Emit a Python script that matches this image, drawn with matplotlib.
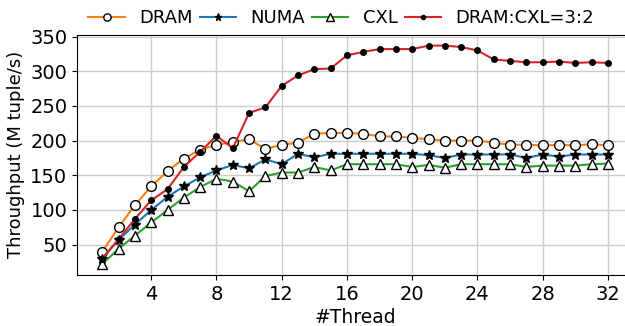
import numpy as np
from matplotlib import pyplot as plt

threads = list(range(1, 33))
dram = [40, 75, 107, 134, 156, 174, 187, 194, 198, 202, 188, 194, 197, 210, 211, 211,
        210, 206, 206, 204, 202, 200, 200, 200, 197, 194, 194, 193, 194, 193, 195, 193]
numa = [30, 57, 79, 100, 119, 134, 147, 157, 165, 160, 173, 166, 181, 176, 181, 181,
        181, 181, 181, 181, 179, 175, 180, 180, 180, 180, 175, 180, 177, 180, 180, 180]
cxl = [22, 44, 63, 82, 100, 118, 133, 145, 141, 127, 149, 154, 154, 162, 157, 166,
       166, 166, 166, 162, 165, 161, 166, 166, 166, 166, 162, 164, 164, 164, 166, 167]
mixed = [30, 58, 87, 114, 130, 162, 184, 207, 189, 240, 248, 279, 294, 303, 304, 323,
         328, 332, 332, 332, 337, 337, 335, 330, 317, 315, 313, 313, 314, 312, 313, 312]

fig = plt.figure(figsize=(6.25, 3.26), dpi=100)
ax = fig.add_axes([0.1232, 0.1564, 0.89, 0.7372])

#four series, drawn in legend order
ax.plot(threads, dram, color='tab:orange', marker='o', markersize=7,
        markerfacecolor='white', markeredgecolor='black', label='DRAM')
ax.plot(threads, numa, color='tab:blue', marker='*', markersize=7,
        markerfacecolor='black', markeredgecolor='black', label='NUMA')
ax.plot(threads, cxl, color='tab:green', marker='^', markersize=7,
        markerfacecolor='white', markeredgecolor='black', label='CXL')
ax.plot(threads, mixed, color='tab:red', marker='o', markersize=4,
        markerfacecolor='black', markeredgecolor='black', label='DRAM:CXL=3:2')

ax.set_xticks(range(4, 33, 4))
ax.set_yticks(range(50, 351, 50))
ax.tick_params(labelsize=14)
ax.grid(True, color='#cccccc', linewidth=1)
ax.set_axisbelow(True)
ax.set_xlabel('#Thread', fontsize=13.5, labelpad=3)
ax.set_ylabel('Throughput (M tuple/s)', fontsize=13)

ax.legend(loc='lower center', bbox_to_anchor=(0.475, 1.0), ncol=4, frameon=False,
          fontsize=13, handlelength=2.0, columnspacing=0.4, handletextpad=0.8,
          borderaxespad=0, markerscale=0.75)

fig.savefig('out.png', dpi=100)
